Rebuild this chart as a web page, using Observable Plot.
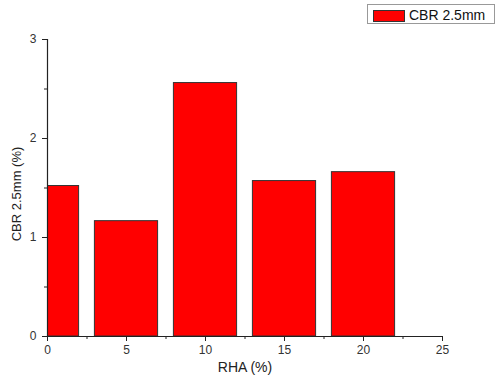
<!DOCTYPE html>
<html>
<head>
<meta charset="utf-8">
<script src="https://cdn.jsdelivr.net/npm/d3@7"></script>
<script src="https://cdn.jsdelivr.net/npm/@observablehq/plot@0.6"></script>
<style>
  html, body { margin: 0; background: #fff; font-family: "Liberation Sans", Arial, sans-serif; overflow: hidden; }
  #wrap { position: relative; width: 495px; height: 383px; overflow: hidden; }
  #legend { position: absolute; left: 367px; top: 4px; width: 128px; height: 20px; border: 1px solid #999; background: #fff; box-sizing: border-box; }
  #legend .sw { position: absolute; left: 5px; top: 5px; width: 32px; height: 12px; background: #ff0000; border: 1px solid #333; box-sizing: border-box; }
  #legend .lb { position: absolute; left: 41px; top: 2px; font-size: 14px; line-height: 16px; color: #111; white-space: nowrap; }
  #ylab { position: absolute; left: 16px; top: 194px; transform: translate(-50%, -50%) rotate(-90deg); font-size: 13px; color: #222; white-space: nowrap; }
</style>
</head>
<body>
<div id="wrap">
  <div id="chart"></div>
  <div id="legend"><div class="sw"></div><div class="lb"></div></div>
  <div id="ylab"></div>
</div>
<script>
const rha = [0, 5, 10, 15, 20];
const cbr = [1.52, 1.165, 2.56, 1.57, 1.66];
const xTicks = [0, 5, 10, 15, 20, 25];
const xMinor = [2.5, 7.5, 12.5, 17.5, 22.5];
const yTicks = [0, 1, 2, 3];
const yMinor = [0.5, 1.5, 2.5];
const seriesName = "CBR 2.5mm";
const xLabel = "RHA (%)";
const yLabel = "CBR 2.5mm (%)";

document.querySelector("#legend .lb").textContent = seriesName;
document.getElementById("ylab").textContent = yLabel;

const data = rha.map((x, i) => ({x, y: cbr[i]}));
const halfWidth = 2;

const chart = Plot.plot({
  width: 495,
  height: 383,
  marginLeft: 47,
  marginRight: 53,
  marginTop: 39,
  marginBottom: 47,
  style: {fontFamily: "Liberation Sans, Arial, sans-serif", fontSize: "12px", color: "#333", background: "#fff"},
  x: {domain: [0, 25], label: null},
  y: {domain: [0, 3], label: null},
  marks: [
    Plot.rectY(data, {x1: d => d.x - halfWidth, x2: d => d.x + halfWidth, y: "y", fill: "#ff0000", stroke: "#333", strokeWidth: 1, clip: true}),
    Plot.ruleX([0], {y1: 0, y2: 3, stroke: "#222", strokeWidth: 1.2}),
    Plot.ruleY([0], {x1: 0, x2: 25, stroke: "#222", strokeWidth: 1.2}),
    Plot.axisX({ticks: xTicks, tickFormat: "d", label: null, tickSize: 5, tickPadding: 4, stroke: "#222", fill: "#333", fontSize: 12}),
    Plot.axisX({ticks: xMinor, label: null, tickSize: 3, text: null, stroke: "#222"}),
    Plot.axisY({ticks: yTicks, tickFormat: "d", label: null, tickSize: 5, tickPadding: 6, stroke: "#222", fill: "#333", fontSize: 12}),
    Plot.axisY({ticks: yMinor, label: null, tickSize: 3, text: null, stroke: "#222"}),
    Plot.text([xLabel], {frameAnchor: "bottom", dy: 35, fontSize: 14, fill: "#222"})
  ]
});
document.getElementById("chart").appendChild(chart);
</script>
</body>
</html>
